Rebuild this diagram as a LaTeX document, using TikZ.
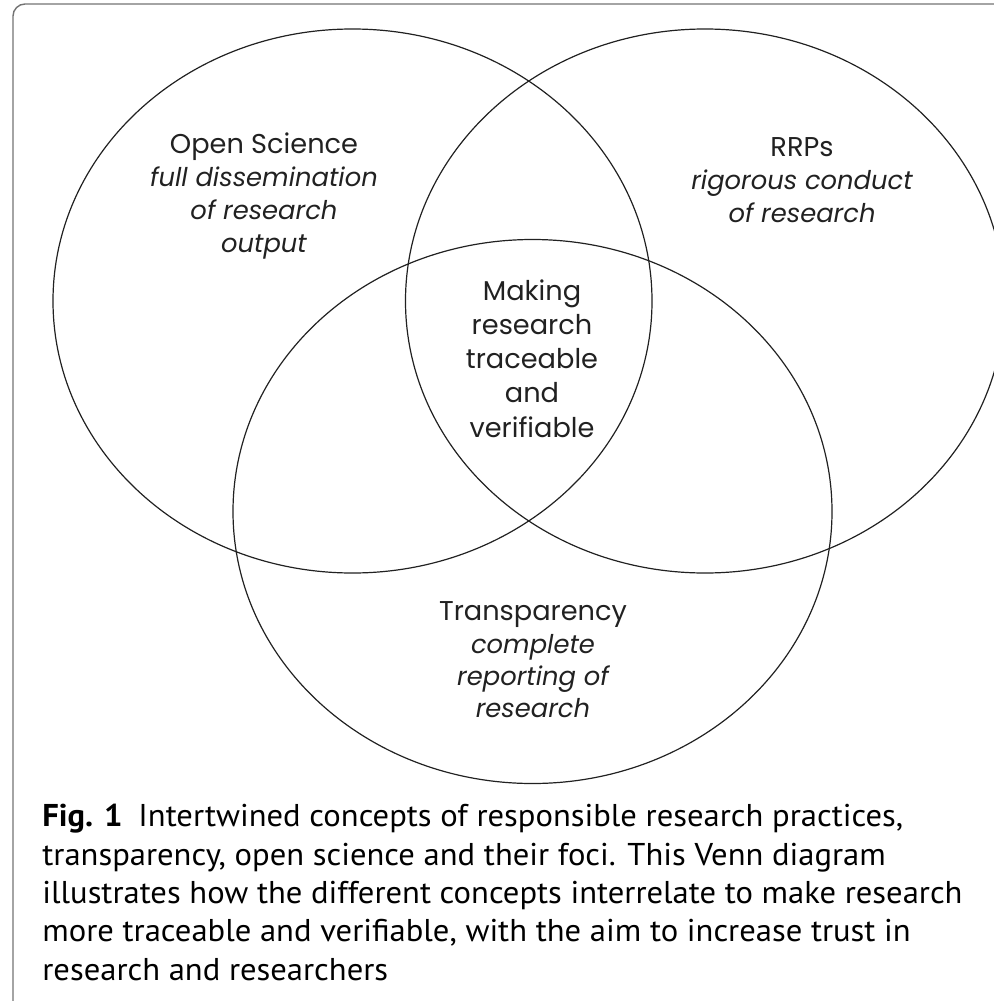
\documentclass[tikz,border=0pt]{standalone}
\usepackage{fontspec}
\setmainfont{Poppins}
\newfontfamily\capfont[FakeStretch=1.035]{PT Sans}
\definecolor{inkgray}{rgb}{0.13,0.13,0.13}
\definecolor{framegray}{rgb}{0.45,0.45,0.45}
\newcommand{\focus}[1]{{\fontsize{12.9}{16.4}\selectfont\itshape #1}}

\begin{document}
\begin{tikzpicture}[x=0.5pt,y=-0.5pt]
\useasboundingbox (0,0) rectangle (994,1001);

% frame of the figure
\draw [line width=0.7pt,framegray,rounded corners=6pt] (13,1001) -- (13,4) -- (994,4);

% the three sets
\coordinate (osc) at (352.5,301);
\coordinate (rrc) at (705,301);
\coordinate (trc) at (532.5,511.5);
\draw [line width=0.6pt,inkgray] (osc) ellipse [x radius=299.5,y radius=272];
\draw [line width=0.6pt,inkgray] (rrc) ellipse [x radius=299.5,y radius=272];
\draw [line width=0.6pt,inkgray] (trc) ellipse [x radius=299.5,y radius=272];

% some text
\node (opensci) [align=center,inkgray,font=\fontsize{13.6}{16.4}\selectfont] at (264,196)
  {Open Science\\ \focus{full dissemination}\\ \focus{of research}\\ \focus{output}};
\node (rrps) [align=center,inkgray,font=\fontsize{13.6}{16.4}\selectfont] at (802,180)
  {RRPs\\ \focus{rigorous conduct}\\ \focus{of research}};
\node (core) [align=center,inkgray,font=\fontsize{13.6}{17.1}\selectfont] at (532,358.5)
  {Making\\ research\\ traceable\\ and\\ verifiable};
\node (transp) [align=center,inkgray,font=\fontsize{13.6}{16.2}\selectfont] at (533,660)
  {Transparency\\ \focus{complete}\\ \focus{reporting of}\\ \focus{research}};

% caption
\node (caption) [anchor=north west,inner sep=0pt,align=left,
  font=\capfont\fontsize{15.75}{19.15}\selectfont] at (42,804)
  {\textbf{Fig. 1}\enspace Intertwined concepts of responsible research practices,\\
   transparency, open science and their foci. This Venn diagram\\
   illustrates how the different concepts interrelate to make research\\
   more traceable and verifiable, with the aim to increase trust in\\
   research and researchers};

\end{tikzpicture}
\end{document}
